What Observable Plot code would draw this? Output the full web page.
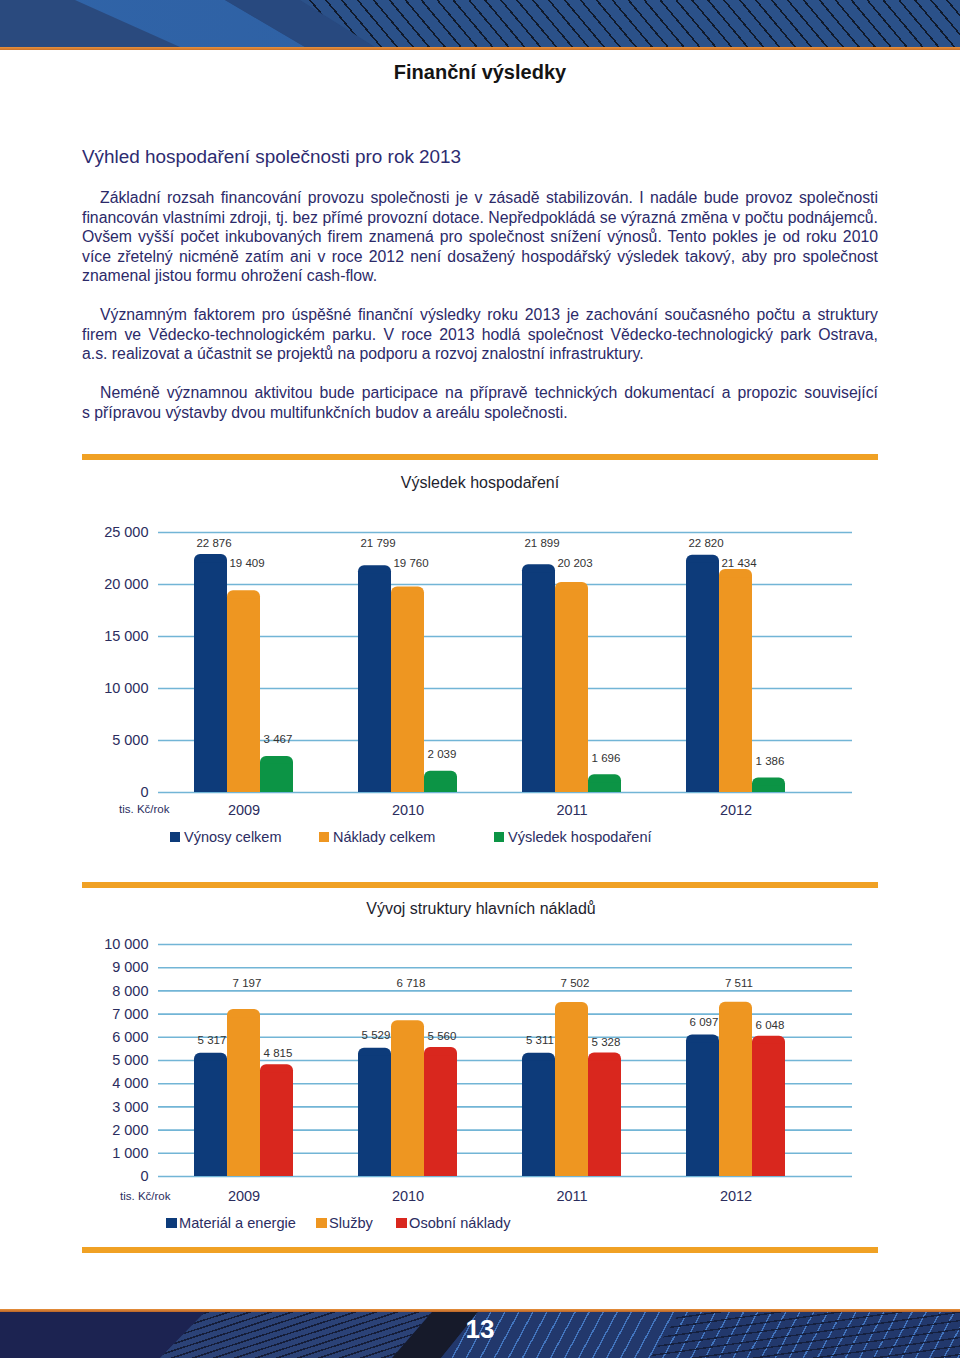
<!DOCTYPE html>
<html lang="cs">
<head>
<meta charset="utf-8">
<script src="https://cdn.jsdelivr.net/npm/d3@7"></script>
<script src="https://cdn.jsdelivr.net/npm/@observablehq/plot@0.6"></script>
<style>
html,body{margin:0;padding:0;background:#fff;}
#page{position:relative;width:960px;height:1358px;overflow:hidden;background:#fff;font-family:"Liberation Sans",Arial,Helvetica,sans-serif;}
.abs{position:absolute;}
#hdr{left:0;top:0;width:960px;height:47px;background:#2a4a7e;overflow:hidden;}
#hdr .sw{position:absolute;inset:0;background:linear-gradient(90deg,#3064a8,#2c5c9e);clip-path:polygon(75px 0,225px 0,305px 47px,180px 47px);}
#hdr .mid{position:absolute;inset:0;background:#28497f;clip-path:polygon(225px 0,300px 0,375px 47px,305px 47px);}
#hdr .st{position:absolute;inset:0;background:repeating-linear-gradient(50deg,rgba(0,0,0,0) 0 10.6px,#101a2c 10.6px 12.2px),#2b5189;clip-path:polygon(300px 0,960px 0,960px 47px,375px 47px);}
#hdrline{left:0;top:47px;width:960px;height:3px;background:linear-gradient(#e8903a,#c8722c);}
#ftrline{left:0;top:1309px;width:960px;height:3px;background:linear-gradient(#e8903a,#b8652a);}
#ftr{left:0;top:1312px;width:960px;height:46px;background:#213363;overflow:hidden;}
#ftr .f1{position:absolute;inset:0;background:#1c2351;clip-path:polygon(0 0,205px 0,160px 46px,0 46px);}
#ftr .f2{position:absolute;inset:0;background:repeating-linear-gradient(162deg,#2b4277 0 5px,#151d38 5px 6.5px);clip-path:polygon(205px 0,432px 0,392px 46px,160px 46px);}
#ftr .f3{position:absolute;inset:0;background:#161a2a;clip-path:polygon(432px 0,478px 0,441px 46px,392px 46px);}
#ftr .f4{position:absolute;inset:0;background:repeating-linear-gradient(118deg,rgba(0,0,0,0) 0 11px,#4274bd 11px 12.4px),#22386c;clip-path:polygon(478px 0,960px 0,960px 46px,441px 46px);}
#ftr .f5{position:absolute;inset:0;background:repeating-linear-gradient(172deg,rgba(0,0,0,0) 0 7px,#15203e 7px 8.4px);clip-path:polygon(680px 0,960px 0,960px 46px,650px 46px);}
#pnum{left:0;top:1314px;width:960px;text-align:center;color:#fff;font-family:"Liberation Sans Narrow","Liberation Sans",Arial,sans-serif;font-weight:bold;font-size:26px;line-height:30px;}
#title{left:0;top:60px;width:960px;text-align:center;font-weight:bold;font-size:20px;line-height:24px;color:#141414;}
#heading{left:82px;top:146px;font-size:18.9px;line-height:22px;color:#2d2b70;white-space:nowrap;}
#text{left:82px;top:188px;width:796px;font-size:15.8px;color:#2c2a69;}
#text .ln{height:19.5px;line-height:19.5px;white-space:nowrap;}
.bar{left:82px;width:796px;height:6px;background:#f0a124;}
.ctitle{left:0;width:960px;text-align:center;font-size:16px;line-height:20px;color:#1e1e2e;}
.leg{display:flex;align-items:center;white-space:nowrap;color:#2b2d62;}
.leg i{display:inline-block;}
</style>
</head>
<body>
<div id="page">
  <div id="hdr" class="abs"><div class="sw"></div><div class="mid"></div><div class="st"></div></div>
  <div id="hdrline" class="abs"></div>
  <div id="title" class="abs">Finanční výsledky</div>
  <div id="heading" class="abs">Výhled hospodaření společnosti pro rok 2013</div>
  <div id="text" class="abs"></div>
  <div class="abs bar" style="top:454px"></div>
  <div class="abs ctitle" style="top:473px">Výsledek hospodaření</div>
  <div class="abs bar" style="top:882px"></div>
  <div class="abs ctitle" style="top:899px;left:1px">Vývoj struktury hlavních nákladů</div>
  <div class="abs bar" style="top:1247px"></div>
  <div id="ftrline" class="abs"></div>
  <div id="ftr" class="abs"><div class="f1"></div><div class="f2"></div><div class="f3"></div><div class="f4"></div><div class="f5"></div></div>
  <div id="pnum" class="abs">13</div>
</div>
<script>
// ---------- DATA ----------
const years = ["2009", "2010", "2011", "2012"];

// Chart 1: Výsledek hospodaření (tis. Kč/rok)
const series1 = ["Výnosy celkem", "Náklady celkem", "Výsledek hospodaření"];
const vynosyCelkem = [22876, 21799, 21899, 22820];
const nakladyCelkem = [19409, 19760, 20203, 21434];
const vysledekHospodareni = [3467, 2039, 1696, 1386];
const ticks1 = [0, 5000, 10000, 15000, 20000, 25000];

// Chart 2: Vývoj struktury hlavních nákladů (tis. Kč/rok)
const series2 = ["Materiál a energie", "Služby", "Osobní náklady"];
const materialAEnergie = [5317, 5529, 5311, 6097];
const sluzby = [7197, 6718, 7502, 7511];
const osobniNaklady = [4815, 5560, 5328, 6048];
const ticks2 = [0, 1000, 2000, 3000, 4000, 5000, 6000, 7000, 8000, 9000, 10000];

const unitLabel = "tis. Kč/rok";

const paragraphs = [
  ["Základní rozsah financování provozu společnosti je v zásadě stabilizován. I nadále bude provoz společnosti",
   "financován vlastními zdroji, tj. bez přímé provozní dotace. Nepředpokládá se výrazná změna v počtu podnájemců.",
   "Ovšem vyšší počet inkubovaných firem znamená pro společnost snížení výnosů. Tento pokles je od roku 2010",
   "více zřetelný nicméně zatím ani v roce 2012 není dosažený hospodářský výsledek takový, aby pro společnost",
   "znamenal jistou formu ohrožení cash-flow."],
  ["Významným faktorem pro úspěšné finanční výsledky roku 2013 je zachování současného počtu a struktury",
   "firem ve Vědecko-technologickém parku. V roce 2013 hodlá společnost Vědecko-technologický park Ostrava,",
   "a.s. realizovat a účastnit se projektů na podporu a rozvoj znalostní infrastruktury."],
  ["Neméně významnou aktivitou bude participace na přípravě technických dokumentací a propozic související",
   "s přípravou výstavby dvou multifunkčních budov a areálu společnosti."]
];

// ---------- STYLE ----------
const colors1 = ["#0d3b7a", "#ee9621", "#0c9445"];
const colors2 = ["#0d3b7a", "#ee9621", "#d9271e"];
const gridColor = "#72b5d6";
const axisColor = "#2b2d5e";

const page = document.getElementById("page");
const fmt = v => d3.format(",")(v).replace(/,/g, " ");

// ---------- TEXT ----------
const textBox = document.getElementById("text");
paragraphs.forEach((lines, p) => {
  if (p > 0) { const b = document.createElement("div"); b.className = "ln"; textBox.appendChild(b); }
  lines.forEach((t, k) => {
    const d = document.createElement("div");
    d.className = "ln";
    if (k === 0) d.style.paddingLeft = "18px";
    const s = document.createElement("span");
    s.textContent = t;
    d.appendChild(s);
    textBox.appendChild(d);
    const avail = 796 - (k === 0 ? 18 : 0) - 1;
    const w = s.getBoundingClientRect().width;
    if (w > avail) d.style.letterSpacing = (-(w - avail) / t.length) + "px";
    if (k < lines.length - 1) {
      d.style.whiteSpace = "normal";
      d.style.textAlign = "justify";
      d.style.textAlignLast = "justify";
    }
  });
});

// ---------- CHARTS ----------
function groupedChart(cfg) {
  const {values, series, colors, ticks, top, height, marginTop, marginBottom, labelDy, labelRow, unitDx, unitDy, xPad} = cfg;
  const rows = series.map((s, i) => years.map((yr, j) => ({year: yr, series: s, value: values[i][j]})));
  const BW = 33, c0 = 243, c3 = 736;
  const step = (c3 - c0) / (years.length - 1);
  const marks = [Plot.ruleY(ticks, {stroke: gridColor, strokeWidth: 1.6})];
  rows.forEach((r, i) => {
    const dx = (i - 1) * BW;
    marks.push(Plot.barY(r, {x: "year", y: "value", fill: colors[i], dx, rx: 6}));
    marks.push(Plot.barY(r, {x: "year", y: "value", fill: colors[i], dx, insetTop: 8}));
  });
  rows.forEach((r, i) => {
    const dx = (i - 1) * BW + (labelRow[i] ? 3 : 1);
    const rowTop = d3.max(r, d => d.value);
    marks.push(Plot.text(r, {
      x: "year", y: labelRow[i] ? (() => rowTop) : "value",
      text: d => fmt(d.value), dx, dy: labelDy[i], fontSize: 11.5, fill: "#333"
    }));
  });
  marks.push(Plot.text([unitLabel], {frameAnchor: "bottom-left", text: d => d, textAnchor: "end", dx: unitDx, dy: unitDy, fontSize: 11.5, fill: axisColor}));
  const svg = Plot.plot({
    width: 960, height, marginLeft: 158, marginRight: 108, marginTop, marginBottom,
    style: {fontFamily: "'Liberation Sans', Arial, Helvetica, sans-serif", fontSize: "14.5px", color: axisColor, background: "transparent", overflow: "visible"},
    x: {type: "band", domain: years, range: [c0 - BW / 2, c3 + BW / 2], paddingInner: 1 - BW / step, paddingOuter: 0, align: 0.5, tickSize: 0, tickPadding: xPad, label: null},
    y: {domain: [0, ticks[ticks.length - 1]], ticks, tickFormat: fmt, tickSize: 0, tickPadding: 10, label: null},
    marks
  });
  svg.style.position = "absolute";
  svg.style.left = "0px";
  svg.style.top = top + "px";
  page.appendChild(svg);
}

groupedChart({
  values: [vynosyCelkem, nakladyCelkem, vysledekHospodareni], series: series1, colors: colors1, ticks: ticks1,
  top: 515, height: 305, marginTop: 17, marginBottom: 28,
  labelRow: [true, true, false], labelDy: [-11, -6, -17], unitDx: 11, unitDy: 20, xPad: 12
});
groupedChart({
  values: [materialAEnergie, sluzby, osobniNaklady], series: series2, colors: colors2, ticks: ticks2,
  top: 930, height: 280, marginTop: 14, marginBottom: 34,
  labelRow: [false, true, false], labelDy: [-13, -19, -11], unitDx: 12, unitDy: 23, xPad: 14
});

// ---------- LEGENDS ----------
function legend(series, colors, xs, cy, sq, gap, fontSize) {
  series.forEach((s, i) => {
    const d = document.createElement("div");
    d.className = "abs leg";
    d.style.left = xs[i] + "px";
    d.style.top = (cy - 10) + "px";
    d.style.height = "20px";
    d.style.fontSize = fontSize + "px";
    const sw = document.createElement("i");
    sw.style.width = sq + "px"; sw.style.height = sq + "px"; sw.style.background = colors[i];
    sw.style.marginRight = gap + "px";
    d.appendChild(sw);
    d.appendChild(document.createTextNode(s));
    page.appendChild(d);
  });
}
legend(series1, colors1, [170, 319, 494], 837, 10, 4, 14.5);
legend(series2, colors2, [166, 316, 396], 1223, 10.5, 2.6, 14.6);
</script>
</body>
</html>
